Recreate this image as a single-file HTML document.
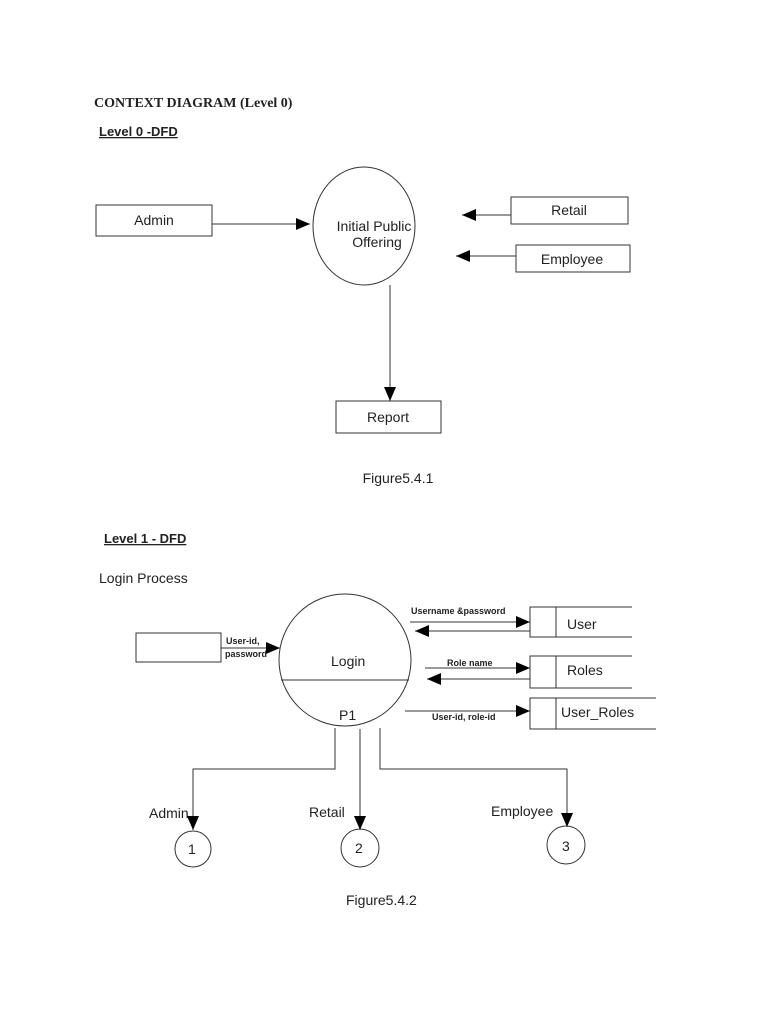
<!DOCTYPE html>
<html><head><meta charset="utf-8"><style>
html,body{margin:0;padding:0;background:#fff;width:768px;height:1024px;overflow:hidden}
svg{display:block}
text{font-family:"Liberation Sans",sans-serif;fill:#222}
</style></head><body>
<svg width="768" height="1024" viewBox="0 0 768 1024" xmlns="http://www.w3.org/2000/svg">
<defs><marker id="a" viewBox="0 0 10 10" refX="10" refY="5" markerWidth="10" markerHeight="10" markerUnits="userSpaceOnUse" orient="auto"><path d="M0,0L10,5L0,10z" fill="#000"/></marker>
<marker id="b" viewBox="0 0 14 12" refX="14" refY="6" markerWidth="14" markerHeight="12" markerUnits="userSpaceOnUse" orient="auto"><path d="M0,0L14,6L0,12z" fill="#000"/></marker></defs>
<g stroke="#333" stroke-width="1" fill="none">
<text x="94" y="107" style="font-family:'Liberation Serif',serif;font-weight:bold;font-size:14px" stroke="none">CONTEXT DIAGRAM (Level 0)</text>
<text x="99" y="136" style="font-weight:bold;font-size:13px;text-decoration:underline" stroke="none">Level 0 -DFD</text>
<ellipse cx="364" cy="226" rx="51" ry="59"/>
<rect x="96" y="205" width="116" height="31"/>
<rect x="511" y="197" width="117" height="27"/>
<rect x="516" y="245" width="114" height="27"/>
<rect x="336" y="401" width="105" height="32"/>
<line x1="212" y1="224" x2="310" y2="224" marker-end="url(#b)"/>
<line x1="511" y1="215" x2="462" y2="215" marker-end="url(#b)"/>
<line x1="516" y1="256" x2="456" y2="256" marker-end="url(#b)"/>
<line x1="390" y1="285" x2="390" y2="401" marker-end="url(#b)"/>
</g>
<g style="font-size:14px" text-anchor="middle">
<text x="154" y="225">Admin</text>
<text x="569" y="215">Retail</text>
<text x="572" y="264">Employee</text>
<text x="374" y="231">Initial Public</text>
<text x="377" y="247">Offering</text>
<text x="388" y="422">Report</text>
<text x="398" y="483">Figure5.4.1</text>
</g>
<text x="104" y="543" style="font-weight:bold;font-size:13px;text-decoration:underline">Level 1 - DFD</text>
<text x="99" y="583" style="font-size:14px">Login Process</text>
<g stroke="#333" stroke-width="1" fill="none">
<circle cx="345" cy="660" r="66"/>
<line x1="281" y1="680" x2="409" y2="680"/>
<rect x="136" y="633" width="85" height="29"/>
<line x1="221" y1="648" x2="280" y2="648" marker-end="url(#b)"/>
<path d="M632,607H530V637H632M556,607V637"/>
<path d="M632,656H530V688H632M556,656V688"/>
<path d="M656,698H530V729H656M556,698V729"/>
<line x1="410" y1="622" x2="530" y2="622" marker-end="url(#b)"/>
<line x1="530" y1="631" x2="415" y2="631" marker-end="url(#b)"/>
<line x1="425" y1="668" x2="530" y2="668" marker-end="url(#b)"/>
<line x1="530" y1="679" x2="427" y2="679" marker-end="url(#b)"/>
<line x1="405" y1="711" x2="530" y2="711" marker-end="url(#b)"/>
<path d="M335,728V769H193V830" marker-end="url(#b)"/>
<line x1="360" y1="729" x2="360" y2="830" marker-end="url(#b)"/>
<path d="M380,728V769H567V827" marker-end="url(#b)"/>
<circle cx="193" cy="849" r="18"/>
<circle cx="360" cy="848" r="19"/>
<circle cx="566" cy="845" r="19"/>
</g>
<g style="font-size:9px;font-weight:bold">
<text x="226" y="644">User-id,</text>
<text x="225" y="657">password</text>
<text x="411" y="614">Username &amp;password</text>
<text x="447" y="666">Role name</text>
<text x="432" y="720">User-id, role-id</text>
</g>
<g style="font-size:14px">
<text x="567" y="629">User</text>
<text x="567" y="675">Roles</text>
<text x="561" y="717">User_Roles</text>
<text x="331" y="666">Login</text>
<text x="339" y="720">P1</text>
<text x="149" y="818">Admin</text>
<text x="309" y="817">Retail</text>
<text x="491" y="816">Employee</text>
<text x="188" y="854">1</text>
<text x="355" y="853">2</text>
<text x="562" y="851">3</text>
<text x="346" y="905">Figure5.4.2</text>
</g>
</svg>
</body></html>
